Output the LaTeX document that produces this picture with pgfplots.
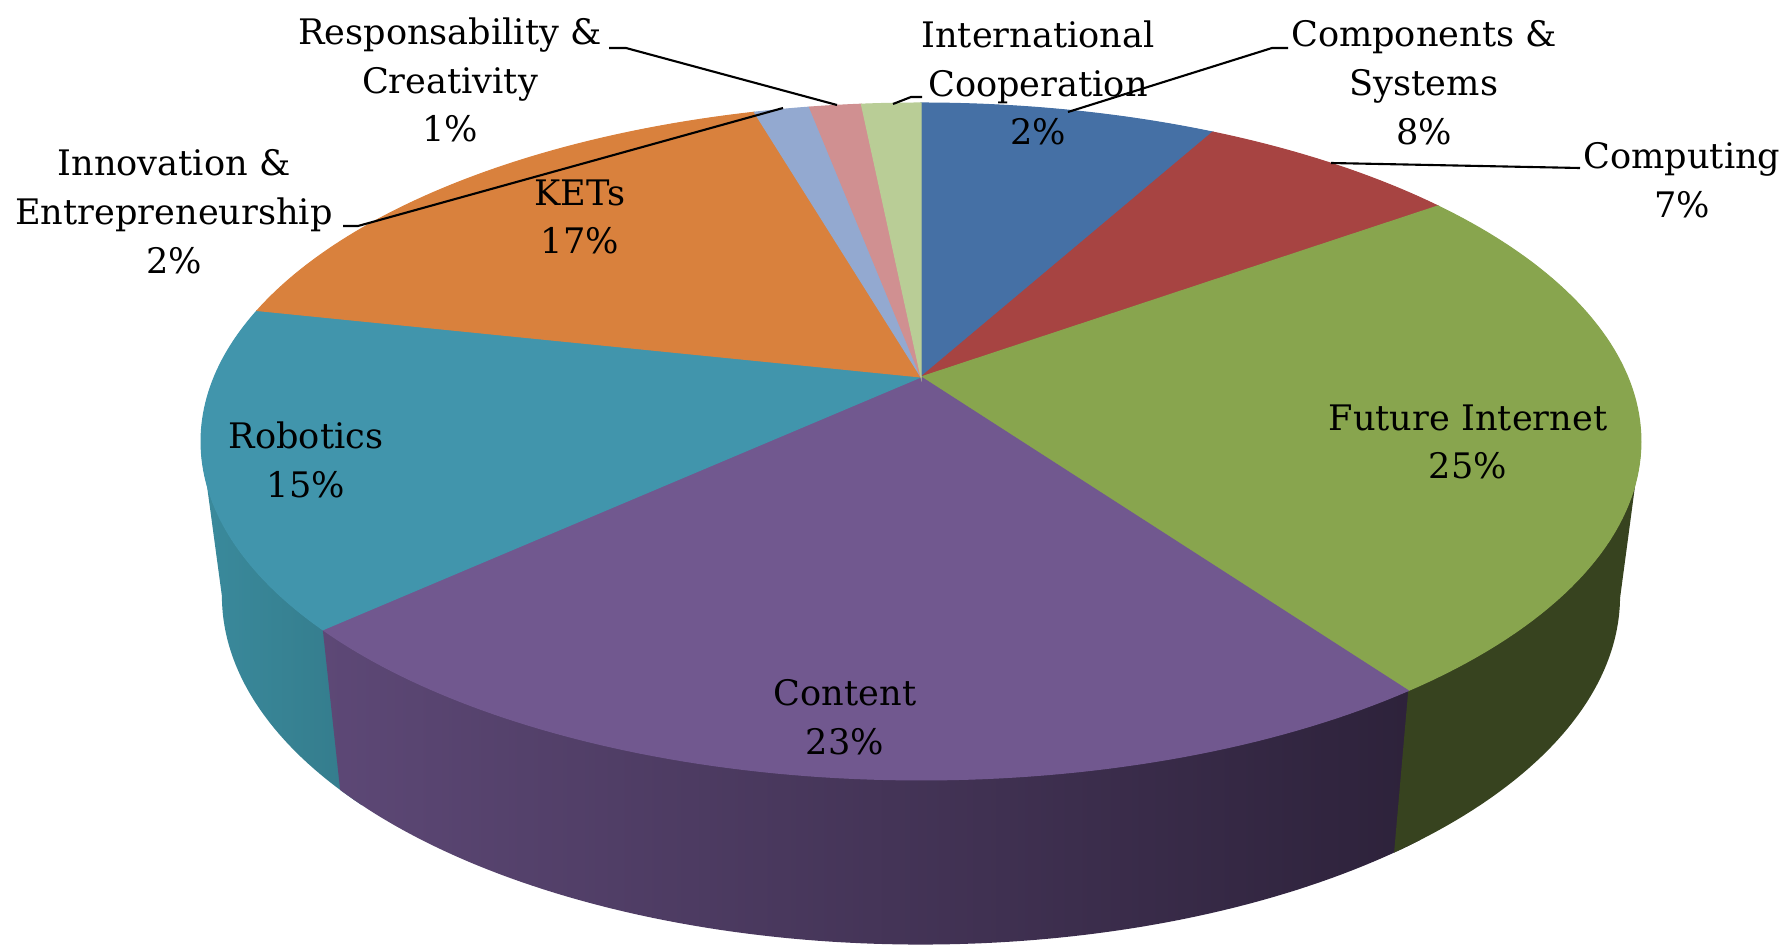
\documentclass[border=0pt]{standalone}
\usepackage{pgfplots}
\pgfplotsset{compat=1.18}
\usepackage{fontspec}
\setmainfont{DejaVu Serif}

\definecolor{cBlue}{HTML}{4570A5}
\definecolor{cRed}{HTML}{A74442}
\definecolor{cGreen}{HTML}{88A54E}
\definecolor{cPurple}{HTML}{71588F}
\definecolor{cTeal}{HTML}{4195AC}
\definecolor{cOrange}{HTML}{D9813D}
\definecolor{cLBlue}{HTML}{93A9D0}
\definecolor{cPink}{HTML}{D09091}
\definecolor{cLGreen}{HTML}{B9CD96}
\definecolor{sTealL}{HTML}{3A8A9C}
\definecolor{sTealR}{HTML}{347B8B}
\definecolor{sPurL}{HTML}{5D4876}
\definecolor{sPurR}{HTML}{2C2139}
\definecolor{sGreen}{HTML}{37431F}

\tikzset{lbl/.style={font=\fontsize{10}{13.9}\selectfont,align=center,inner sep=0pt}}

% shares in percent (clockwise from 12 o'clock)
\def\vComp{8.0}   % Components & Systems
\def\vCompu{7.1}  % Computing
\def\vFI{25.0}    % Future Internet
\def\vCont{23.1}  % Content
\def\vRob{15.2}   % Robotics
\def\vKET{17.1}   % KETs
\def\vInno{1.5}   % Innovation & Entrepreneurship
\def\vResp{1.4}   % Responsability & Creativity
\def\vIntl{1.6}   % International Cooperation

\pgfmathsetmacro{\aA}{90-3.6*\vComp}
\pgfmathsetmacro{\aB}{\aA-3.6*\vCompu}
\pgfmathsetmacro{\aC}{\aB-3.6*\vFI}
\pgfmathsetmacro{\aD}{\aC-3.6*\vCont}
\pgfmathsetmacro{\aE}{\aD-3.6*\vRob}
\pgfmathsetmacro{\aF}{\aE-3.6*\vKET}
\pgfmathsetmacro{\aG}{\aF-3.6*\vInno}
\pgfmathsetmacro{\aH}{\aG-3.6*\vResp}
\pgfmathsetmacro{\aI}{\aH-3.6*\vIntl}
\pgfmathsetmacro{\aDx}{\aD+3}
\pgfmathsetmacro{\aCx}{\aC+3}

\begin{document}
\begin{tikzpicture}
\begin{axis}[width=17.91cm,height=9.45cm,scale only axis,
  xmin=0,xmax=1791,ymin=0,ymax=945,hide axis,clip=false,
  declare function={
    R(\t)=1+0.1905*sin(\t);
    px(\t)=921+706.8*cos(\t)/R(\t);
    py(\t)=568+326.2*sin(\t)/R(\t);
    bx(\t)=921+0.971*706.8*cos(\t)/R(\t);
    by(\t)=568+1.03*326.2*sin(\t)/R(\t)-152.5;
  },
]
\path (axis cs:0,0) rectangle (axis cs:1791,945);

% side faces
\addplot[draw=none,left color=sTealL,right color=sTealR,domain=0:2,samples=241]
  ({x<1.0001 ? px(-169+(\aDx+169)*x) : bx(\aDx-(\aDx+169)*(x-1))},
   {x<1.0001 ? py(-169+(\aDx+169)*x) : by(\aDx-(\aDx+169)*(x-1))}) -- cycle;
\addplot[draw=none,left color=sPurL,right color=sPurR,domain=0:2,samples=401]
  ({x<1.0001 ? px(\aD+(\aCx-\aD)*x) : bx(\aCx-(\aCx-\aD)*(x-1))},
   {x<1.0001 ? py(\aD+(\aCx-\aD)*x) : by(\aCx-(\aCx-\aD)*(x-1))}) -- cycle;
\addplot[draw=none,fill=sGreen,domain=0:2,samples=241]
  ({x<1.0001 ? px(\aC+(-11-\aC)*x) : bx(-11-(-11-\aC)*(x-1))},
   {x<1.0001 ? py(\aC+(-11-\aC)*x) : by(-11-(-11-\aC)*(x-1))}) -- cycle;

% top faces
\addplot[fill=cBlue,draw=cBlue,line width=0.3pt,domain=\aA:90,samples=40] ({px(x)},{py(x)}) -- (axis cs:921,568) -- cycle;
\addplot[fill=cRed,draw=cRed,line width=0.3pt,domain=\aB:\aA,samples=40] ({px(x)},{py(x)}) -- (axis cs:921,568) -- cycle;
\addplot[fill=cGreen,draw=cGreen,line width=0.3pt,domain=\aC:\aB,samples=80] ({px(x)},{py(x)}) -- (axis cs:921,568) -- cycle;
\addplot[fill=cPurple,draw=cPurple,line width=0.3pt,domain=\aD:\aC,samples=80] ({px(x)},{py(x)}) -- (axis cs:921,568) -- cycle;
\addplot[fill=cTeal,draw=cTeal,line width=0.3pt,domain=\aE:\aD,samples=60] ({px(x)},{py(x)}) -- (axis cs:921,568) -- cycle;
\addplot[fill=cOrange,draw=cOrange,line width=0.3pt,domain=\aF:\aE,samples=60] ({px(x)},{py(x)}) -- (axis cs:921,568) -- cycle;
\addplot[fill=cLBlue,draw=cLBlue,line width=0.3pt,domain=\aG:\aF,samples=10] ({px(x)},{py(x)}) -- (axis cs:921,568) -- cycle;
\addplot[fill=cPink,draw=cPink,line width=0.3pt,domain=\aH:\aG,samples=10] ({px(x)},{py(x)}) -- (axis cs:921,568) -- cycle;
\addplot[fill=cLGreen,draw=cLGreen,line width=0.3pt,domain=\aI:\aH,samples=10] ({px(x)},{py(x)}) -- (axis cs:921,568) -- cycle;

% leader lines
\draw[line width=0.6pt] (axis cs:609,897) -- (axis cs:626,897) -- (axis cs:837,840);
\draw[line width=0.6pt] (axis cs:343,719) -- (axis cs:358,719) -- (axis cs:783,837);
\draw[line width=0.6pt] (axis cs:922,848) -- (axis cs:911,848) -- (axis cs:893,841);
\draw[line width=0.6pt] (axis cs:1288,897) -- (axis cs:1272,897) -- (axis cs:1068,833);
\draw[line width=0.6pt] (axis cs:1580,777) -- (axis cs:1331,782);

% labels
\node[lbl] at (axis cs:450,865) {Responsability \&\\Creativity\\1\%};
\node[lbl] at (axis cs:1038,862) {International\\Cooperation\\2\%};
\node[lbl] at (axis cs:1424,862) {Components \&\\Systems\\8\%};
\node[lbl] at (axis cs:1682,765) {Computing\\7\%};
\node[lbl] at (axis cs:174,733) {Innovation \&\\Entrepreneurship\\2\%};
\node[lbl] at (axis cs:580,728) {KETs\\17\%};
\node[lbl] at (axis cs:1468,503) {Future Internet\\25\%};
\node[lbl] at (axis cs:306,485) {Robotics\\15\%};
\node[lbl] at (axis cs:845,228) {Content\\23\%};
\end{axis}
\end{tikzpicture}
\end{document}
